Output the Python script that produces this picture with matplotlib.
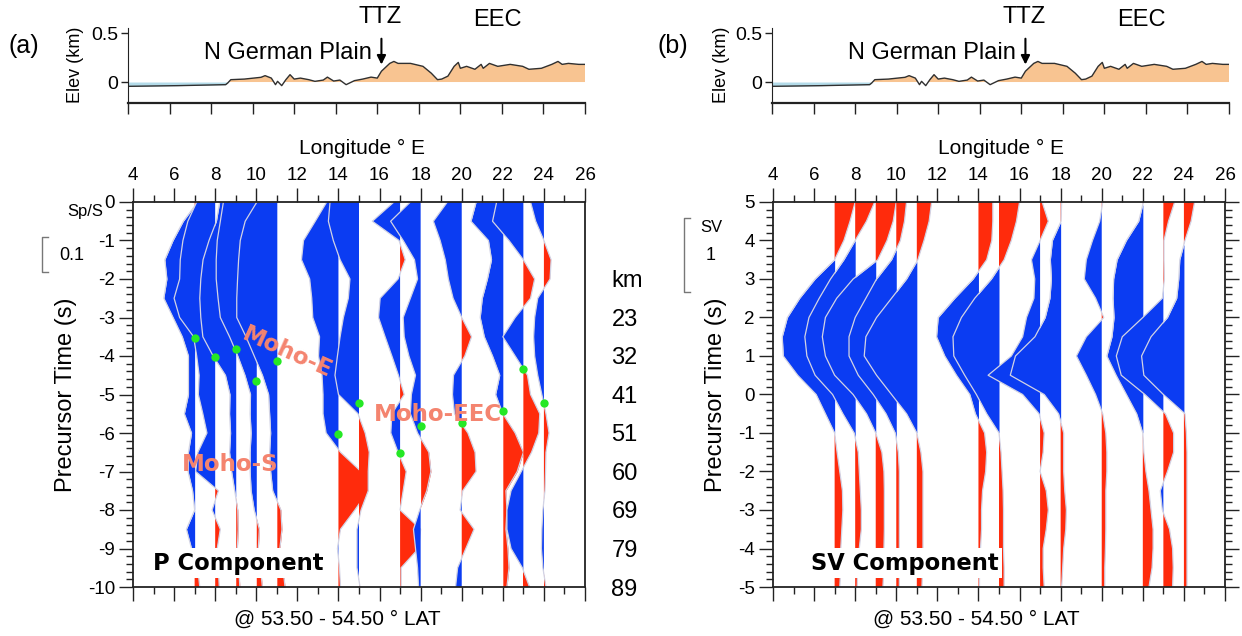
import numpy as np
import matplotlib.pyplot as plt
from matplotlib.lines import Line2D
from matplotlib.ticker import MultipleLocator, FormatStrFormatter

plt.rcParams['font.family'] = ['Liberation Sans', 'DejaVu Sans']
plt.rcParams['axes.unicode_minus'] = False

# topography along the profile (km)
elev_lon = [4.0, 6.4, 8.7, 8.8, 8.95, 9.6, 10.4, 10.6, 10.9, 11.1, 11.2, 11.4, 11.6, 11.8,
            12.0, 12.3, 12.7, 13.0, 13.4, 13.6, 13.9, 14.2, 14.5, 14.9, 15.3, 15.7, 16.0,
            16.2, 16.6, 16.8, 17.0, 17.6, 18.2, 18.6, 18.9, 19.1, 19.4, 19.7, 19.9, 20.0,
            20.3, 20.7, 21.0, 21.1, 21.4, 21.8, 22.4, 23.0, 23.3, 23.9, 24.4, 24.7, 24.9,
            25.2, 25.7, 26.0]
elev_km = [-0.044, -0.037, -0.027, -0.01, 0.024, 0.03, 0.048, 0.065, 0.04, -0.027, 0.007,
           -0.037, 0.024, 0.075, 0.03, 0.04, 0.024, 0.007, 0.02, 0.05, 0.01, 0.02, -0.027,
           0.014, 0.03, 0.05, 0.04, 0.11, 0.19, 0.21, 0.19, 0.19, 0.16, 0.09, 0.024, 0.03,
           0.06, 0.16, 0.20, 0.14, 0.16, 0.13, 0.18, 0.14, 0.19, 0.16, 0.18, 0.16, 0.13,
           0.14, 0.18, 0.21, 0.18, 0.19, 0.18, 0.18]

# stack longitudes (deg E)
station_lon = [7, 8, 9, 10, 11, 14, 15, 17, 18, 20, 22, 23, 24]

# P stacks: precursor time (s) and trace deflection (deg of longitude)
p_time = [0.0, -0.5, -1.0, -1.5, -2.0, -2.5, -3.0, -3.5, -4.0, -4.5, -5.0,
          -5.5, -6.0, -6.5, -7.0, -7.5, -8.0, -8.5, -9.0, -9.5, -10.0]
p_07 = [0.15, -0.55, -1.05, -1.45, -1.35, -1.5, -1.05, -0.6, -0.3, -0.3, -0.3,
        -0.5, -0.15, -0.3, -0.32, -0.1, 0.0, -0.4, -0.15, 0.15, 0.25]
p_08 = [-0.9, -1.33, -1.57, -1.7, -1.73, -2.0, -1.73, -1.05, -0.9, -0.78, -0.82,
        -0.6, -0.4, -0.84, -0.95, 0.16, -0.15, 0.25, 0.1, 0.15, 0.2]
p_09 = [-0.78, -0.94, -1.3, -1.59, -1.7, -1.75, -1.7, -1.6, -1.1, -0.5, -0.28,
        -0.3, -0.25, -0.3, -0.2, -0.05, 0.1, 0.12, 0.08, 0.15, 0.2]
p_10 = [-1.6, -1.75, -1.9, -1.95, -1.95, -1.86, -1.75, -1.3, -0.9, -0.55, -0.28,
        -0.3, -0.25, -0.3, -0.3, -0.25, -0.1, 0.15, 0.1, 0.2, 0.3]
p_11 = [-0.97, -1.54, -1.78, -1.86, -1.91, -1.95, -1.95, -1.5, -1.1, -0.7, -0.4,
        -0.35, -0.3, -0.35, -0.3, -0.2, 0.2, 0.25, 0.15, 0.3, 0.4]
p_14 = [-0.57, -1.13, -1.7, -1.8, -1.4, -1.3, -1.25, -0.92, -0.97, -0.8, -0.75,
        -0.75, -0.6, 0.1, 1.1, 1.45, 0.8, 0.1, -0.05, 0.05, 0.1]
p_15 = [-1.41, -1.49, -1.25, -0.92, -0.44, -0.52, -0.76, -0.92, -1.05, -1.17, -1.0,
        -0.05, 0.3, 0.5, 0.45, 0.45, 0.1, -0.1, -0.1, -0.1, 0.05]
p_17 = [-0.3, -1.35, -0.05, 0.25, -0.1, -0.97, -1.05, -0.73, -0.4, -0.08, 0.2,
        -0.4, -0.45, -0.1, 0.3, 0.15, 0.0, 1.0, 0.9, 0.05, 0.05]
p_18 = [-0.5, -1.46, -0.85, -0.3, -0.15, -0.5, -0.85, -0.8, -0.57, -0.25, -0.45,
        -0.5, -0.15, 0.4, 0.5, 0.3, -0.05, -0.35, -0.25, -0.15, -0.1]
p_20 = [-0.7, -1.38, -1.05, -0.8, -0.65, -0.42, 0.0, 0.48, 0.15, -0.4, -0.45,
        -0.35, 0.3, 0.65, 0.7, 0.05, -0.08, 0.6, 0.2, -0.2, -0.3]
p_22 = [-1.3, -1.55, -0.7, -0.55, -0.75, -1.0, -1.1, -0.9, -0.5, -0.15, -0.35,
        0.0, 0.6, 1.0, 0.7, 0.15, 0.2, 0.15, 0.25, 0.3, 0.2]
p_23 = [-1.3, -1.5, -0.7, 0.0, 0.55, 0.35, -0.4, -1.0, -0.4, 0.2, 0.35,
        0.8, 0.75, 0.4, -0.1, -0.6, -0.8, -0.8, -0.6, -0.05, 0.3]
p_24 = [-0.65, -0.4, 0.0, 0.35, 0.3, -0.3, -0.45, -0.5, -0.45, -0.3, -0.1,
        0.1, 0.25, 0.1, 0.08, 0.05, -0.05, -0.1, -0.12, -0.05, 0.1]
p_moho = [-3.54, -4.03, -3.82, -4.64, -4.13, -6.03, -5.22, -6.53, -5.83, -5.75, -5.44, -4.34, -5.23]
depth_labels = ['km', '23', '32', '41', '51', '60', '69', '79', '89']

# SV stacks
sv_time = [5.0, 4.5, 4.0, 3.5, 3.0, 2.5, 2.0, 1.5, 1.0, 0.5, 0.0,
           -0.5, -1.0, -1.5, -2.0, -2.5, -3.0, -3.5, -4.0, -4.5, -5.0]
s_07 = [1.0, 0.75, 0.45, 0.0, -0.95, -1.7, -2.3, -2.55, -2.5, -1.8, -0.9,
        -0.45, 0.0, 0.12, 0.25, 0.38, 0.4, 0.35, 0.3, 0.3, 0.25]
s_08 = [0.95, 0.55, 0.0, -0.55, -1.2, -1.75, -2.25, -2.45, -2.35, -1.95, -1.1,
        -0.6, -0.05, 0.15, 0.2, 0.25, 0.3, 0.3, 0.2, 0.12, 0.1]
s_09 = [1.0, 0.85, 0.55, 0.1, -1.1, -1.9, -2.45, -2.6, -2.45, -2.0, -1.1,
        -0.45, 0.0, 0.3, 0.4, 0.42, 0.42, 0.42, 0.4, 0.4, 0.35]
s_10 = [0.5, 0.4, 0.2, -0.23, -0.96, -1.48, -2.0, -2.3, -2.3, -1.85, -1.12,
        -0.5, -0.05, 0.1, 0.15, 0.15, 0.15, 0.15, 0.15, 0.15, 0.15]
s_11 = [0.72, 0.6, 0.35, 0.05, -0.5, -1.23, -1.96, -2.48, -2.56, -1.96, -1.23,
        -0.5, 0.0, 0.2, 0.3, 0.3, 0.3, 0.3, 0.3, 0.28, 0.25]
s_14 = [0.7, 0.7, 0.65, 0.4, -0.26, -1.15, -1.96, -2.04, -1.64, -1.07, -0.42,
        -0.15, 0.3, 0.4, 0.35, 0.2, 0.15, 0.15, 0.1, 0.05, 0.05]
s_15 = [1.0, 0.85, 0.6, 0.25, -0.37, -1.18, -1.83, -2.24, -2.2, -1.67, -1.1,
        -0.6, 0.0, 0.1, 0.15, 0.2, 0.22, 0.22, 0.22, 0.25, 0.25]
s_17 = [0.1, 0.4, 0.0, -0.42, -0.26, -0.3, -0.66, -0.85, -1.4, -2.53, -0.85,
        -0.05, 0.2, 0.15, 0.0, 0.3, 0.4, 0.3, 0.15, 0.15, 0.2]
s_18 = [0.05, 0.02, -0.4, -0.5, -0.45, -0.52, -0.75, -1.25, -2.2, -2.45, -0.8,
        -0.1, 0.15, 0.15, 0.15, 0.2, 0.28, 0.25, 0.15, 0.1, 0.05]
s_20 = [0.05, -0.1, -0.45, -0.75, -0.85, -0.3, 0.1, -0.75, -1.23, -0.75, -0.3,
        0.05, 0.2, 0.25, 0.25, 0.2, 0.2, 0.2, 0.18, 0.15, 0.15]
s_22 = [0.03, -0.2, -0.8, -1.25, -1.42, -1.45, -1.4, -1.5, -1.75, -1.3, -0.8,
        -0.3, 0.0, 0.05, 0.15, 0.3, 0.4, 0.5, 0.5, 0.45, 0.3]
s_23 = [0.55, 0.25, 0.03, 0.03, 0.05, -0.05, -1.0, -2.0, -2.29, -2.05, -0.9,
        0.1, 0.5, 0.5, 0.2, -0.15, -0.05, 0.3, 0.45, 0.48, 0.45]
s_24 = [0.52, 0.35, 0.05, -0.2, -0.25, -0.35, -0.8, -1.6, -2.06, -1.95, -1.0,
        0.05, 0.12, 0.15, 0.15, 0.15, 0.15, 0.15, 0.15, 0.15, 0.15]

p_traces = [p_07, p_08, p_09, p_10, p_11, p_14, p_15, p_17, p_18, p_20, p_22, p_23, p_24]
sv_traces = [s_07, s_08, s_09, s_10, s_11, s_14, s_15, s_17, s_18, s_20, s_22, s_23, s_24]

W, H = 1242, 636
BLUE = '#0b3cf2'
RED = '#ff2b0c'
TRACE_LINE = '#d2d3e4'
LAND = '#f8c491'
SEA = '#b3dbe9'
MOHO = '#f4846f'
INK = '#222222'


def box(x, y, w, h):
    # pixel box (left, top, width, height) -> figure fraction
    return [x / W, 1 - (y + h) / H, w / W, h / H]


def ftext(x, y, s, **kw):
    fig.text(x / W, 1 - y / H, s, ha=kw.pop('ha', 'center'), va=kw.pop('va', 'center'), **kw)


def elevation(ax):
    lon = np.array(elev_lon)
    z = np.array(elev_km)
    ax.fill_between(lon, z, 0, where=lon <= 8.8, color=SEA, lw=0)
    ax.fill_between(lon, z, 0, where=(lon >= 8.8) & (z > 0), interpolate=True, color=LAND, lw=0)
    ax.plot(lon, z, color='#303030', lw=1.0)
    ax.set_xlim(4, 26)
    ax.set_ylim(-0.214, 0.551)
    ax.spines['top'].set_visible(False)
    ax.spines['right'].set_visible(False)
    for s in ('left', 'bottom'):
        ax.spines[s].set_color(INK)
    ax.spines['bottom'].set_linewidth(1.6)
    ax.set_xticks(np.arange(4, 27, 2))
    ax.set_xticklabels([])
    ax.set_yticks([0, 0.5])
    ax.set_yticklabels(['0', '0.5'])
    ax.tick_params(axis='x', direction='out', length=8, width=1, color=INK)
    ax.tick_params(axis='y', direction='out', length=5, width=1, labelsize=14, pad=2, color=INK)
    ax.patch.set_alpha(0)
    ax.annotate('', xy=(16.2, 0.15), xytext=(16.2, 0.47),
                arrowprops=dict(arrowstyle='-|>', color='black', lw=1.5, mutation_scale=13),
                annotation_clip=False)
    ax.text(16.15, 0.665, 'TTZ', ha='center', va='center', fontsize=17, clip_on=False)
    ax.text(21.8, 0.635, 'EEC', ha='center', va='center', fontsize=17, clip_on=False)
    ax.text(15.75, 0.30, 'N German Plain', ha='right', va='center', fontsize=17)


def wiggles(ax, t, traces, ylim):
    t = np.array(t)
    for lon, amp in zip(station_lon, traces):
        x = lon + np.array(amp)
        ax.fill_betweenx(t, lon, x, where=x <= lon, interpolate=True, color=BLUE, lw=0, zorder=2)
        ax.fill_betweenx(t, lon, x, where=x >= lon, interpolate=True, color=RED, lw=0, zorder=2)
        ax.plot(x, t, color=TRACE_LINE, lw=0.9, zorder=2)
    ax.set_xlim(4, 26)
    ax.set_ylim(*ylim)
    ax.xaxis.set_major_locator(MultipleLocator(2))
    ax.xaxis.set_minor_locator(MultipleLocator(1))
    ax.yaxis.set_major_locator(MultipleLocator(1))
    ax.yaxis.set_minor_locator(MultipleLocator(0.2))
    ax.yaxis.set_major_formatter(FormatStrFormatter('%d'))
    ax.tick_params(which='both', direction='out', top=True, bottom=True, left=True, right=True,
                   labeltop=True, labelbottom=False, labelleft=True, labelright=False,
                   color=INK, width=1)
    ax.tick_params(which='major', length=10)
    ax.tick_params(which='minor', length=5)
    ax.tick_params(axis='x', labelsize=13.5, pad=3)
    ax.tick_params(axis='y', labelsize=13.5, pad=3)
    for s in ax.spines.values():
        s.set_color(INK)
        s.set_linewidth(1.3)


fig = plt.figure(figsize=(W / 100, H / 100), dpi=100)

# ---- (a) P component ----
ea = fig.add_axes(box(128, 28, 457, 75))
elevation(ea)
ax = fig.add_axes(box(133, 202, 452, 385))
wiggles(ax, p_time, p_traces, (-10, 0))
ax.plot(station_lon, p_moho, 'o', color='#25e825', ms=6, mec='none', zorder=4)
ax.text(11.5, -3.92, 'Moho-E', color=MOHO, fontsize=16.5, fontweight='bold',
        family='DejaVu Sans', rotation=-24, ha='center', va='center', zorder=5)
ax.text(8.72, -6.83, 'Moho-S', color=MOHO, fontsize=16.5, fontweight='bold',
        family='DejaVu Sans', ha='center', va='center', zorder=5)
ax.text(18.84, -5.53, 'Moho-EEC', color=MOHO, fontsize=16.5, fontweight='bold',
        family='DejaVu Sans', ha='center', va='center', zorder=5)
ax.text(9.11, -9.38, 'P Component', fontsize=16.3, fontweight='bold', family='DejaVu Sans',
        ha='center', va='center', zorder=6,
        bbox=dict(boxstyle='square,pad=0.15', fc='white', ec='none'))
axr = ax.twinx()
axr.set_ylim(-10, 0)
axr.set_yticks(np.arange(-2, -11, -1))
axr.set_yticklabels(depth_labels)
axr.tick_params(axis='y', length=0, pad=19, labelsize=17)
for s in axr.spines.values():
    s.set_visible(False)

ftext(24, 46, '(a)', fontsize=18)
ftext(75, 65, 'Elev (km)', fontsize=13, rotation=90)
ftext(362, 148, 'Longitude ° E', fontsize=15)
ftext(337, 619, '@ 53.50 - 54.50 ° LAT', fontsize=15)
ftext(66, 395, 'Precursor Time (s)', fontsize=17, rotation=90)
ftext(85, 212, 'Sp/S', fontsize=12)
ftext(72, 256, '0.1', fontsize=13)
fig.add_artist(Line2D(np.array([48, 42, 42, 48]) / W, 1 - np.array([237, 237, 272, 272]) / H,
                      color='#777777', lw=1))

# ---- (b) SV component ----
eb = fig.add_axes(box(772, 28, 457, 75))
elevation(eb)
bx = fig.add_axes(box(773, 202, 452, 385))
wiggles(bx, sv_time, sv_traces, (-5, 5))
bx.text(10.42, -4.38, 'SV Component', fontsize=16.3, fontweight='bold', family='DejaVu Sans',
        ha='center', va='center', zorder=6,
        bbox=dict(boxstyle='square,pad=0.15', fc='white', ec='none'))

ftext(673, 46, '(b)', fontsize=18)
ftext(722, 65, 'Elev (km)', fontsize=13, rotation=90)
ftext(1001, 148, 'Longitude ° E', fontsize=15)
ftext(976, 619, '@ 53.50 - 54.50 ° LAT', fontsize=15)
ftext(716, 395, 'Precursor Time (s)', fontsize=17, rotation=90)
ftext(711, 228, 'SV', fontsize=12)
ftext(711, 256, '1', fontsize=13)
fig.add_artist(Line2D(np.array([690, 684, 684, 690]) / W, 1 - np.array([218, 218, 292, 292]) / H,
                      color='#777777', lw=1))

fig.savefig('out.png', dpi=100, facecolor='white')
